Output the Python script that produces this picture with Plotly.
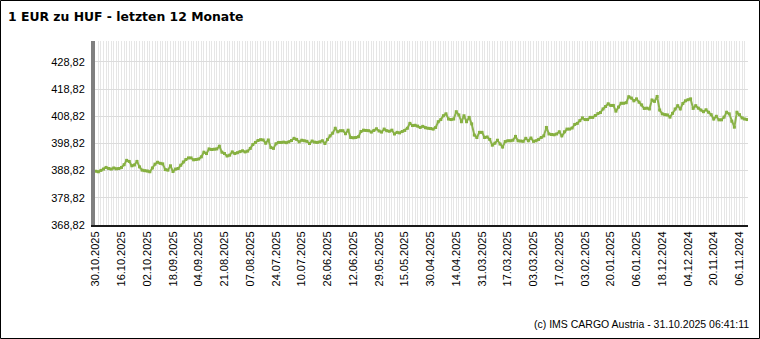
import pandas as pd
import plotly.graph_objects as go

# ---- data -------------------------------------------------------------
holidays = ["2024-12-25", "2024-12-26", "2025-01-01", "2025-04-18", "2025-04-21", "2025-05-01"]
bdays = pd.bdate_range("2024-11-01", "2025-10-30", freq="C", holidays=holidays)
dates = [d.strftime("%d.%m.%Y") for d in bdays][::-1]  # newest first (left)

huf_rate = [
    388.6, 388.4, 388.9, 389.4, 390.0, 389.6, 389.4, 389.8, 389.5, 389.6,
    390.0, 391.0, 392.6, 392.2, 390.6, 390.9, 392.2, 390.2, 389.0, 388.8,
    388.7, 388.4, 389.8, 391.2, 391.9, 391.5, 391.3, 389.2, 389.0, 390.6,
    388.5, 389.4, 389.6, 390.8, 392.0, 392.9, 393.5, 393.5, 392.8, 392.9,
    393.1, 393.9, 395.6, 395.1, 396.8, 396.6, 396.7, 396.8, 397.8, 395.6,
    395.1, 394.2, 394.5, 395.7, 395.1, 395.4, 395.8, 396.1, 395.7, 396.0,
    397.0, 398.4, 399.2, 399.9, 400.2, 400.1, 398.9, 400.1, 397.3, 397.0,
    398.7, 399.2, 399.2, 399.3, 399.1, 399.4, 399.9, 400.7, 400.3, 399.4,
    400.0, 399.8, 399.6, 398.8, 399.7, 399.3, 399.2, 399.4, 399.8, 398.8,
    400.3, 401.6, 402.6, 404.4, 403.1, 403.5, 403.5, 402.4, 403.7, 401.0,
    400.9, 401.0, 401.3, 403.2, 403.7, 403.6, 403.5, 403.0, 403.6, 404.2,
    403.4, 403.0, 404.1, 403.5, 403.3, 403.7, 402.3, 402.9, 402.7, 403.2,
    403.6, 404.4, 406.2, 405.4, 405.5, 405.2, 404.7, 405.1, 404.6, 404.4,
    404.3, 404.1, 404.7, 406.8, 407.6, 409.0, 409.7, 407.8, 407.6, 407.8,
    410.5, 409.3, 406.8, 409.0, 406.8, 408.4, 406.0, 401.9, 401.0, 402.9,
    402.9, 401.0, 401.2, 400.3, 398.2, 398.9, 400.0, 398.6, 397.5, 399.5,
    399.8, 399.8, 400.0, 401.4, 399.8, 399.7, 399.6, 400.7, 399.8, 400.8,
    399.6, 399.8, 400.3, 401.0, 401.6, 404.7, 402.3, 402.1, 402.0, 402.3,
    403.1, 401.6, 403.1, 404.1, 404.1, 404.5, 405.8, 406.2, 407.2, 408.2,
    407.6, 407.6, 408.4, 408.4, 409.1, 409.8, 410.2, 411.5, 412.4, 413.4,
    412.8, 412.8, 410.7, 412.2, 413.6, 413.6, 413.8, 416.0, 415.5, 414.5,
    415.2, 414.0, 413.0, 411.7, 411.8, 411.5, 414.8, 414.3, 416.1, 411.1,
    409.7, 409.4, 409.3, 408.5, 409.9, 411.5, 412.7, 411.5, 413.5, 414.5,
    414.9, 415.2, 411.7, 412.7, 411.8, 411.1, 410.5, 411.2, 410.3, 409.4,
    407.8, 408.8, 407.5, 407.5, 408.5, 410.3, 409.7, 407.0, 404.8, 410.3,
    409.4, 408.2, 407.8, 407.6,
]
assert len(dates) == len(huf_rate)

x_ticktext = [d if i % 10 == 0 else "" for i, d in enumerate(dates)]
y_tickvals = [368.82, 378.82, 388.82, 398.82, 408.82, 418.82, 428.82]
y_ticktext = ["368,82", "378,82", "388,82", "398,82", "408,82", "418,82", "428,82"]

title_text = "1 EUR zu HUF - letzten 12 Monate"
footer_text = "(c) IMS CARGO Austria - 31.10.2025 06:41:11"

# ---- layout geometry --------------------------------------------------
W, H = 760, 339
ML, MR, MT, MB = 95, 12, 41, 114
PW, PH = W - ML - MR, H - MT - MB

fig = go.Figure()
fig.add_trace(go.Scatter(
    x=dates, y=huf_rate, mode="lines+markers",
    line=dict(color="#8db44e", width=2),
    marker=dict(symbol="square", size=3, color="#86b040"),
    hoverinfo="x+y",
))

fig.update_layout(
    width=W, height=H,
    margin=dict(l=ML, r=MR, t=MT, b=MB, pad=0),
    paper_bgcolor="white", plot_bgcolor="white",
    showlegend=False,
    title=dict(text="<b>" + title_text + "</b>", x=8 / W, xanchor="left",
               y=1 - 17 / H, yanchor="middle", yref="container",
               font=dict(family="DejaVu Sans", size=12.4, color="#000000")),
    font=dict(family="Liberation Sans, Arial", size=11, color="#000000"),
)

fig.update_xaxes(
    type="category", categoryorder="array", categoryarray=dates,
    range=[-0.3, len(dates) - 0.7],
    tickmode="array", tickvals=dates, ticktext=x_ticktext,
    tickangle=-90, ticks="", showgrid=True, gridcolor="#e6e6e6", gridwidth=1,
    showline=True, linecolor="#1a1a1a", linewidth=2,
    tickfont=dict(family="Liberation Sans, Arial", size=11, color="#000000"),
    zeroline=False, fixedrange=True,
)
fig.update_yaxes(
    range=[368.82, 436.5],
    tickmode="array", tickvals=y_tickvals, ticktext=y_ticktext,
    ticks="", ticklabelstandoff=4,
    showgrid=True, gridcolor="#dcdcdc", gridwidth=1,
    showline=True, linecolor="#808080", linewidth=4,
    tickfont=dict(family="Liberation Sans, Arial", size=11, color="#000000"),
    zeroline=False, fixedrange=True,
)

# footer
fig.add_annotation(
    text=footer_text, xref="paper", yref="paper",
    x=(751 - ML) / PW, y=(H - MB - 324) / PH, xanchor="right", yanchor="middle",
    showarrow=False, font=dict(family="Liberation Sans, Arial", size=10.5, color="#000000"),
)

# outer black frame
fig.add_shape(
    type="rect", xref="paper", yref="paper",
    x0=(0.5 - ML) / PW, x1=(W - 0.5 - ML) / PW,
    y0=(H - MB - (H - 0.5)) / PH, y1=(H - MB - 0.5) / PH,
    line=dict(color="#000000", width=1), fillcolor="rgba(0,0,0,0)", layer="above",
)

fig.write_html("out.html")
